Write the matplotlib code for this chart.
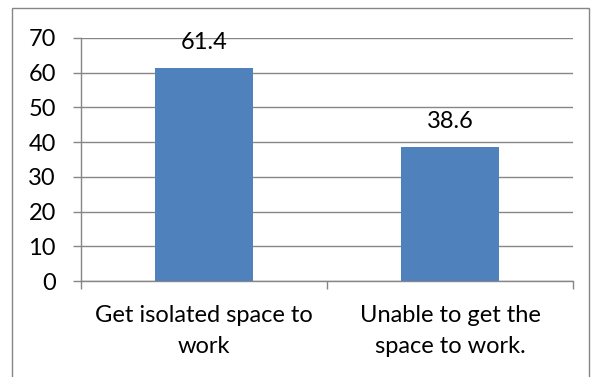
import matplotlib.pyplot as plt
from matplotlib.patches import Rectangle

categories = ["Get isolated space to\nwork", "Unable to get the\nspace to work."]
values = [61.4, 38.6]
yticks = [0, 10, 20, 30, 40, 50, 60, 70]

plt.rcParams['font.family'] = ['Lato', 'DejaVu Sans']
W, H = 591, 377
fig = plt.figure(figsize=(W / 100, H / 100), dpi=100)

# outer chart frame
fig.patches.append(Rectangle((12 / W, -0.01), (589 - 12) / W, (H - 8) / H + 0.01,
                             transform=fig.transFigure, fill=False,
                             edgecolor="#868686", linewidth=1.0))

ax = fig.add_axes([81 / W, (H - 281) / H, (573 - 81) / W, (281 - 38) / H])
x = range(len(categories))
ax.bar(x, values, width=0.4, color="#4F81BD", zorder=3)

for xi, v in zip(x, values):
    ax.annotate(f"{v}", (xi, v), xytext=(0, 11), textcoords="offset points",
                ha="center", va="bottom", fontsize=17, color="black")

ax.set_xlim(-0.5, 1.5)
ax.set_ylim(0, 70)
ax.set_yticks(yticks)
ax.set_yticklabels([str(t) for t in yticks], fontsize=17)
ax.yaxis.grid(True, color="#868686", linewidth=1.0, zorder=0)

ax.set_xticks([-0.5, 0.5, 1.5])
ax.set_xticklabels([])
ax.set_xticks(list(x), minor=True)
ax.set_xticklabels(categories, minor=True, fontsize=17, linespacing=1.6)
ax.tick_params(axis="x", which="minor", length=0, pad=17)
ax.tick_params(axis="x", which="major", length=6, color="#868686", width=1.0)
ax.tick_params(axis="y", length=6, color="#868686", width=1.0, pad=12)

for s in ["top", "right"]:
    ax.spines[s].set_visible(False)
for s in ["left", "bottom"]:
    ax.spines[s].set_color("#868686")
    ax.spines[s].set_linewidth(1.0)

plt.savefig("out.png", dpi=100)
